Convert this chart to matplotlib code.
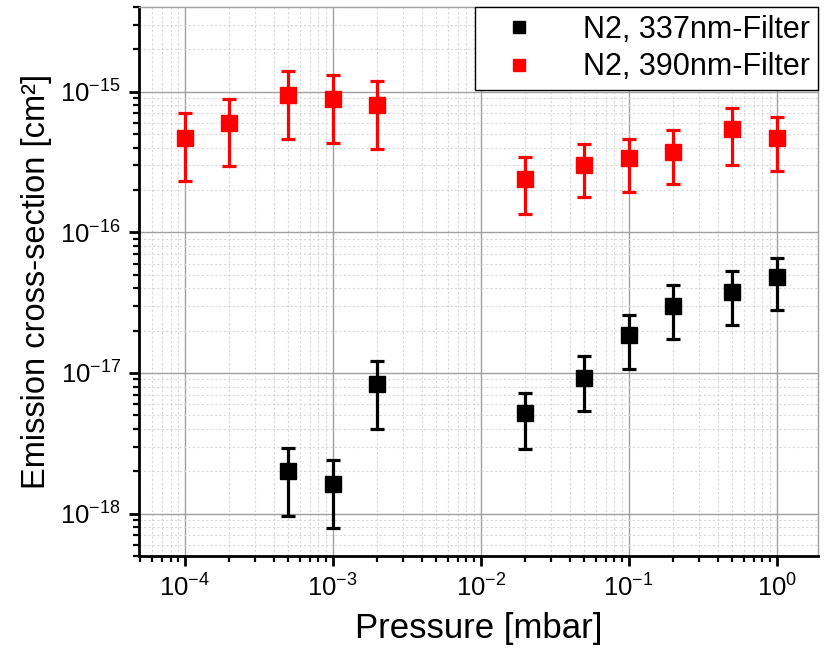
import numpy as np
import matplotlib
matplotlib.use("Agg")
import matplotlib.pyplot as plt
from matplotlib.lines import Line2D
from matplotlib.ticker import LogLocator, NullFormatter

plt.rcParams['font.family'] = ['Liberation Sans', 'DejaVu Sans']
plt.rcParams['mathtext.fontset'] = 'custom'
plt.rcParams['mathtext.rm'] = 'Liberation Sans'
plt.rcParams['mathtext.it'] = 'Liberation Sans:italic'

# pressure [mbar]
p_337 = [5e-4, 1e-3, 2e-3, 2e-2, 5e-2, 1e-1, 2e-1, 5e-1, 1.0]
sig_337 = [2.0e-18, 1.63e-18, 8.3e-18, 5.2e-18, 9.2e-18, 1.86e-17, 3.0e-17, 3.75e-17, 4.8e-17]
hi_337 = [2.95e-18, 2.4e-18, 1.22e-17, 7.2e-18, 1.32e-17, 2.6e-17, 4.2e-17, 5.3e-17, 6.6e-17]
lo_337 = [9.7e-19, 7.9e-19, 4.0e-18, 2.9e-18, 5.4e-18, 1.07e-17, 1.74e-17, 2.2e-17, 2.8e-17]

p_390 = [1e-4, 2e-4, 5e-4, 1e-3, 2e-3, 2e-2, 5e-2, 1e-1, 2e-1, 5e-1, 1.0]
sig_390 = [4.7e-16, 6.0e-16, 9.5e-16, 8.8e-16, 8.1e-16, 2.4e-16, 3.0e-16, 3.35e-16, 3.75e-16, 5.4e-16, 4.7e-16]
hi_390 = [7.1e-16, 8.9e-16, 1.4e-15, 1.32e-15, 1.2e-15, 3.45e-16, 4.25e-16, 4.6e-16, 5.3e-16, 7.6e-16, 6.6e-16]
lo_390 = [2.3e-16, 2.95e-16, 4.6e-16, 4.35e-16, 3.9e-16, 1.36e-16, 1.77e-16, 1.92e-16, 2.2e-16, 3.0e-16, 2.75e-16]

labels = ['N2, 337nm-Filter', 'N2, 390nm-Filter']
colors = ['black', 'red']


def yerr(val, lo, hi):
    val, lo, hi = np.array(val), np.array(lo), np.array(hi)
    return [val - lo, hi - val]


fig = plt.figure(figsize=(8.29, 6.58), dpi=100)
ax = fig.add_axes([0.1677, 0.155, 0.819, 0.8344])

series = [(p_337, sig_337, lo_337, hi_337), (p_390, sig_390, lo_390, hi_390)]
for (p, s, lo, hi), c in zip(series, colors):
    ax.errorbar(p, s, yerr=yerr(s, lo, hi), fmt='s', color=c, ms=11,
                elinewidth=2.3, capsize=5, capthick=2.3, zorder=3)

ax.set_xscale('log')
ax.set_yscale('log')
ax.set_xlim(4.9e-5, 1.9)
ax.set_ylim(5.0e-19, 4.0e-15)

ax.xaxis.set_minor_locator(LogLocator(base=10, subs=np.arange(2, 10), numticks=20))
ax.yaxis.set_minor_locator(LogLocator(base=10, subs=np.arange(2, 10), numticks=20))
ax.xaxis.set_minor_formatter(NullFormatter())
ax.yaxis.set_minor_formatter(NullFormatter())

ax.grid(True, which='major', color='#a0a0a0', lw=1.0, zorder=0)
ax.grid(True, which='minor', color='#d8d8d8', lw=0.8, ls=(0, (2, 2)), zorder=0)
ax.set_axisbelow(True)

for s in ['left', 'bottom']:
    ax.spines[s].set_linewidth(2.0)
    ax.spines[s].set_color('black')
for s in ['top', 'right']:
    ax.spines[s].set_linewidth(1.0)
    ax.spines[s].set_color('#a0a0a0')

ax.tick_params(which='major', direction='out', length=7, width=2, labelsize=18.5, pad=6)
ax.tick_params(which='minor', direction='out', length=4, width=1.6)

ax.set_xlabel('Pressure [mbar]', fontsize=25, labelpad=8)
ax.set_ylabel('Emission cross-section [cm²]', fontsize=23.5, labelpad=6)

handles = [Line2D([], [], marker='s', ls='', color=c, ms=9) for c in colors]
leg = ax.legend(handles, labels, loc='upper right', fontsize=22, frameon=True, fancybox=False,
                borderaxespad=0, framealpha=1, edgecolor='black', handlelength=2.4,
                handletextpad=0.9, borderpad=0.25, labelspacing=0.25)
leg.get_frame().set_linewidth(1.0)

fig.savefig('out.png', dpi=100)
